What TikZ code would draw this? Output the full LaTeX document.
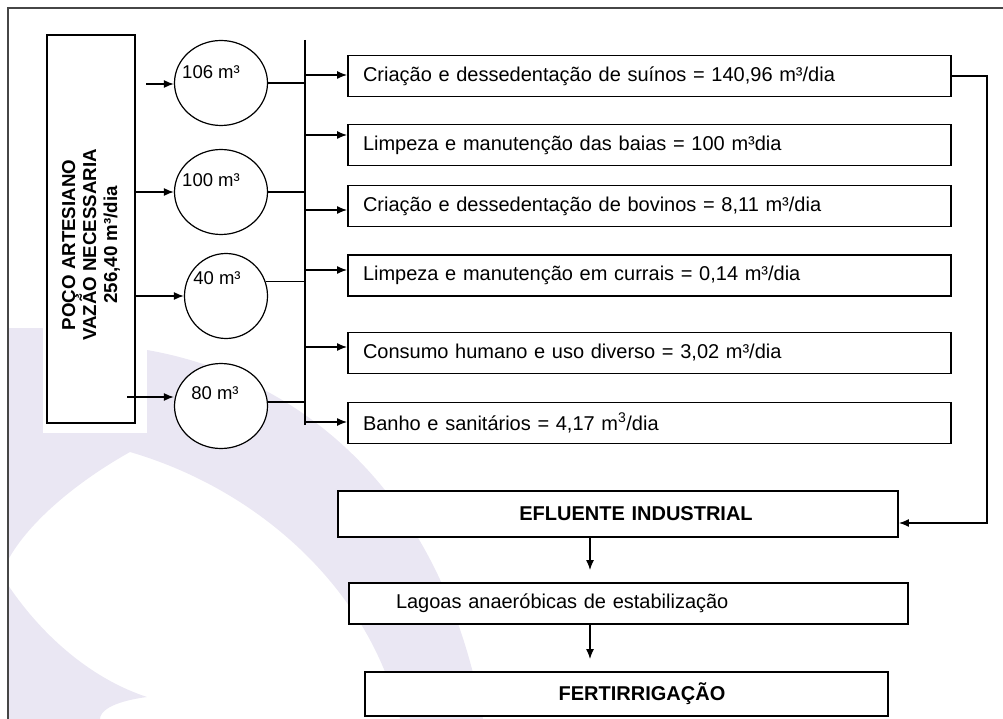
\documentclass[tikz,border=0pt]{standalone}
\usepackage{fontspec}
\setmainfont{Liberation Sans}
\usepackage{tikz}
\usetikzlibrary{
        arrows.meta,
        positioning,
        shapes.geometric
    }
\tikzset{>={Latex[length=10pt,width=8pt]},x=1pt,y=-1pt}
\definecolor{marca}{RGB}{234,231,243}
\definecolor{moldura}{RGB}{70,70,70}

\begin{document}
\begin{tikzpicture}[line width=1.4pt,
        caixa/.style={draw,fill=white,line width=1.9pt,inner xsep=15pt,text width=573pt,
            align=left,minimum height=41pt,font=\fontsize{20}{24}\selectfont},
        tanque/.style={draw,ellipse,fill=white,line width=1.2pt,minimum width=93pt,
            minimum height=85pt,inner sep=0pt},
        vol/.style={font=\fontsize{18.5}{20}\selectfont}]
        \useasboundingbox (0,0) rectangle (1003,719);
        % marca d'agua ao fundo
        \fill[marca] (8,328) rectangle (43,433);
        \fill[marca] (147,350) .. controls (290,375) and (440,480) .. (483,719)
            -- (400,719) .. controls (370,590) and (260,490) .. (130,452)
            .. controls (80,480) and (30,520) .. (8,560) -- (8,433) -- (147,433) -- cycle;
        \fill[marca] (8,585) .. controls (45,640) and (95,680) .. (147,697)
            .. controls (110,702) and (100,712) .. (100,719) -- (8,719) -- cycle;
        \draw[moldura] (8,719) -- (8,8) -- (1003,8);

        % poco
        \node[draw,fill=white,line width=1.9pt,minimum width=88pt,minimum height=388pt] (p) at (91,229) {};
        \node[rotate=90,align=center,font=\bfseries\fontsize{18.7}{21}\selectfont] (pt) at (91,245)
            {POÇO ARTESIANO\\VAZÃO NECESSARIA\\256,40 m³/dia};

        % reservatorios
        \node[tanque,label={[vol,xshift=-10pt,yshift=11pt]center:106 m³}] (c1) at (221,83) {};
        \node[tanque,label={[vol,xshift=-10pt,yshift=12pt]center:100 m³}] (c2) at (221,192) {};
        \node[tanque,minimum width=83pt,label={[vol,xshift=-9pt,yshift=18pt]center:40 m³}] (c3) at (226,296) {};
        \node[tanque,label={[vol,xshift=-6pt,yshift=13pt]center:80 m³}] (c4) at (221,406) {};

        % usos
        \node[caixa] (b1) at (649.5,76) {Criação e dessedentação de suínos = 140,96 m³/dia};
        \node[caixa] (b2) at (649.5,145) {Limpeza e manutenção das baias = 100 m³dia};
        \node[caixa] (b3) at (649.5,206) {Criação e dessedentação de bovinos = 8,11 m³/dia};
        \node[caixa] (b4) at (649.5,275.5) {Limpeza e manutenção em currais = 0,14 m³/dia};
        \node[caixa] (b5) at (649.5,353) {Consumo humano e uso diverso = 3,02 m³/dia};
        \node[caixa] (b6) at (649.5,423) {Banho e sanitários = 4,17 m\textsuperscript{3}/dia};

        % tratamento
        \node[caixa,text width=530pt,minimum height=46pt,align=center,font=\bfseries\fontsize{20}{24}\selectfont]
            (ef) at (618,514) {\hspace*{36pt}EFLUENTE INDUSTRIAL};
        \node[caixa,inner xsep=47pt,text width=465pt] (lg) at (628.5,603.5) {Lagoas anaeróbicas de estabilização};
        \node[caixa,text width=493pt,minimum height=44pt,align=center,font=\bfseries\fontsize{20}{24}\selectfont]
            (fe) at (626.5,694) {\hspace*{31pt}FERTIRRIGAÇÃO};

        % ligacoes
        \coordinate (s1) at (146,84);
        \coordinate (s4) at (127,397);
        \coordinate (bt) at (305,40);
        \coordinate (bb) at (305,425);
        \coordinate (k) at (987,523);
        \coordinate (ax) at (590,0);
        \draw (bt) -- (bb);
        \path[->]
            (s1) edge (s1 -| c1.west)
            (p.east |- c2.west) edge (c2.west)
            (p.east |- c3.west) edge (c3.west)
            (s4) edge (s4 -| c4.west)
        ;
        \draw (c1.east) -- (c1.east -| bt);
        \draw (c2.east) -- (c2.east -| bt);
        \draw (c3.20) -- (c3.20 -| bt);
        \draw (c4.5) -- (c4.5 -| bt);
        \foreach \b/\y in {b1/75,b2/135,b3/210,b4/270,b5/347,b6/422}{
            \coordinate (t\b) at (305,\y);
            \draw[->] (t\b) -- (t\b -| \b.west);
        }
        \draw[->] (b1.east) -| (k) -- (k -| ef.east);
        \path[->,shorten >=12pt]
            (ef.south -| ax) edge (lg.north -| ax)
            (lg.south -| ax) edge (fe.north -| ax)
        ;
\end{tikzpicture}
\end{document}
